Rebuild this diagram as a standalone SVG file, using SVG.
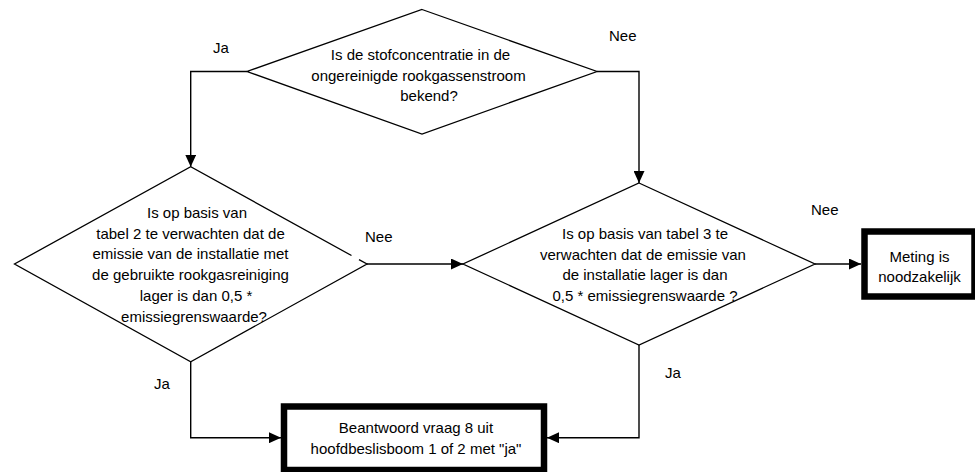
<svg xmlns="http://www.w3.org/2000/svg" width="975" height="472" viewBox="0 0 975 472">
  <style>
    text { font-family: "Liberation Sans", Arial, sans-serif; font-size: 15px; fill: #000; }
    .c { text-anchor: middle; }
    .shape { fill: #fff; stroke: #000; stroke-width: 1.3; }
    .box { fill: #fff; stroke: #000; stroke-width: 6.5; }
    .edge { fill: none; stroke: #000; stroke-width: 1.4; marker-end: url(#arrow); }
  </style>
  <defs>
    <marker id="arrow" markerUnits="userSpaceOnUse" markerWidth="12" markerHeight="11" refX="12" refY="5.5" orient="auto">
      <path d="M0,0 L12,5.5 L0,11 Z" fill="#000"/>
    </marker>
  </defs>
  <rect width="975" height="472" fill="#fff"/>

  <!-- connectors -->
  <g id="connectors">
    <path class="edge" d="M247,71.5 H190.7 V166.7"/>
    <path class="edge" d="M597,71.5 H639 V183"/>
    <path class="edge" d="M367,264 H463"/>
    <path class="edge" d="M815,264 H861"/>
    <path class="edge" d="M190.7,361.7 V437.7 H281"/>
    <path class="edge" d="M639,345 V437.7 H547"/>
  </g>

  <!-- decision: dust concentration known -->
  <g id="q-stofconcentratie">
    <polygon class="shape" points="422,9.5 597,71.5 422,134 247,71.5"/>
    <text class="c" x="420.5" y="60">Is de stofconcentratie in de</text>
    <text class="c" x="418.5" y="80.5">ongereinigde rookgassenstroom</text>
    <text class="c" x="429" y="101">bekend?</text>
  </g>

  <!-- decision: table 2 -->
  <g id="q-tabel2">
    <path class="shape" d="M351.5,255.5 L190.7,166.7 L14.5,264 L190.7,361.7 L367,264 L359,259.6"/>
    <text class="c" x="197" y="217.5">Is op basis van</text>
    <text class="c" x="190.5" y="238.5">tabel 2 te verwachten dat de</text>
    <text class="c" x="190.5" y="259">emissie van de installatie met</text>
    <text class="c" x="190.5" y="280">de gebruikte rookgasreiniging</text>
    <text class="c" x="196" y="301">lager is dan 0,5 *</text>
    <text class="c" x="194" y="321.5">emissiegrenswaarde?</text>
  </g>

  <!-- decision: table 3 -->
  <g id="q-tabel3">
    <polygon class="shape" points="639,183 815,264 639,345 463,264"/>
    <text class="c" x="645" y="238.5">Is op basis van tabel 3 te</text>
    <text class="c" x="643" y="259.5">verwachten dat de emissie van</text>
    <text class="c" x="645" y="280">de installatie lager is dan</text>
    <text class="c" x="645" y="301">0,5 * emissiegrenswaarde ?</text>
  </g>

  <!-- outcome: measurement required (right border runs off the page edge) -->
  <g id="meting">
    <rect class="box" x="864.5" y="231.5" width="110" height="65"/>
    <text class="c" x="919.5" y="261.5">Meting is</text>
    <text class="c" x="919.5" y="282">noodzakelijk</text>
  </g>

  <!-- outcome: answer question 8 -->
  <g id="beantwoord">
    <rect class="box" x="284" y="406.5" width="260" height="63.5"/>
    <text class="c" x="416" y="433">Beantwoord vraag 8 uit</text>
    <text class="c" x="416" y="454">hoofdbeslisboom 1 of 2 met "ja"</text>
  </g>

  <!-- branch labels -->
  <g id="labels">
    <text x="213" y="52.5">Ja</text>
    <text x="609" y="41">Nee</text>
    <text x="365" y="242">Nee</text>
    <text x="811" y="215">Nee</text>
    <text x="154" y="389">Ja</text>
    <text x="665" y="378">Ja</text>
  </g>
</svg>
